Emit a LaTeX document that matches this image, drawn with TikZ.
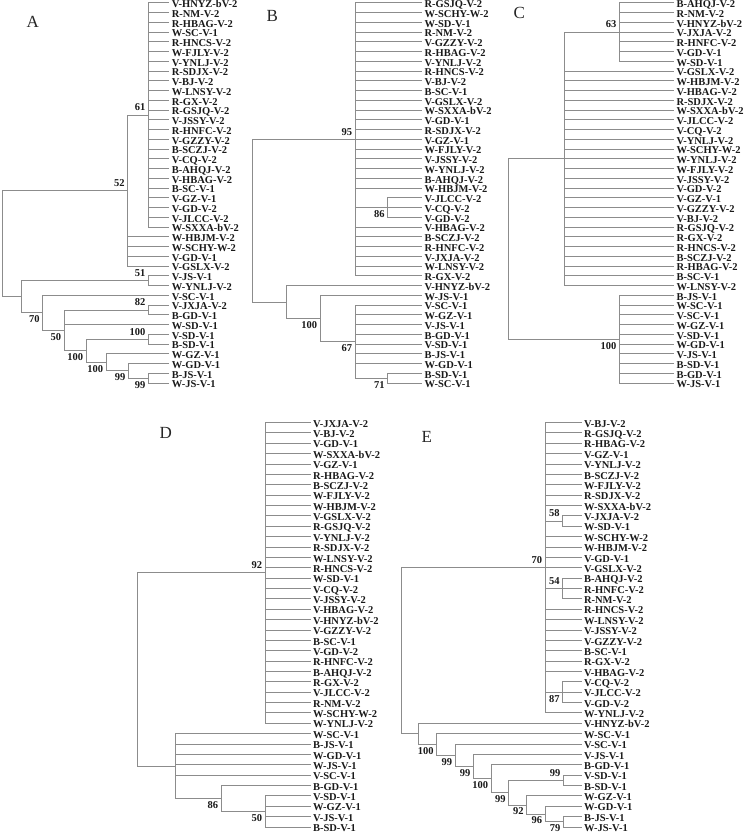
\documentclass[tikz,border=0pt]{standalone}
\usepackage{fontspec}
\setmainfont{Liberation Serif}
\newcommand\ya[1]{2.8+9.75*(#1-1)}
\newcommand\yd[1]{422.5+10.37*(#1-1)}
\newcommand\lblfont{\fontsize{10.5}{10.5}\selectfont\bfseries}
\newcommand\panfont{\fontsize{17}{17}\selectfont}
\tikzset{
 br/.style={draw=black!45, line width=0.8pt},
 lf/.style={anchor=west, inner xsep=2.5pt, inner ysep=0pt, outer sep=0pt, text height=9.5pt, text depth=0pt, font=\lblfont, text=black!90},
 bsa/.style={anchor=south east, inner sep=0pt, outer sep=0pt, xshift=-3pt, yshift=4pt, font=\lblfont, text=black!90},
 bsb/.style={anchor=north east, inner sep=0pt, outer sep=0pt, xshift=-3pt, yshift=-3pt, font=\lblfont, text=black!90},
 pl/.style={font=\panfont, text=black!85, inner sep=0pt},
}
\begin{document}
\begin{tikzpicture}[x=1pt,y=-1pt]
\fill[white] (0,0) rectangle (750,834);
\useasboundingbox (0,0) rectangle (750,834);

% ================= Panel A =================
\node[pl] (labA) at (32.7,21.7) {A};
\foreach \lname [count=\i] in {V-HNYZ-bV-2,R-NM-V-2,R-HBAG-V-2,W-SC-V-1,R-HNCS-V-2,W-FJLY-V-2,V-YNLJ-V-2,R-SDJX-V-2,V-BJ-V-2,W-LNSY-V-2,R-GX-V-2,R-GSJQ-V-2,V-JSSY-V-2,R-HNFC-V-2,V-GZZY-V-2,B-SCZJ-V-2,V-CQ-V-2,B-AHQJ-V-2,V-HBAG-V-2,B-SC-V-1,V-GZ-V-1,V-GD-V-2,V-JLCC-V-2,W-SXXA-bV-2,W-HBJM-V-2,W-SCHY-W-2,V-GD-V-1,V-GSLX-V-2,V-JS-V-1,W-YNLJ-V-2,V-SC-V-1,V-JXJA-V-2,B-GD-V-1,W-SD-V-1,V-SD-V-1,B-SD-V-1,W-GZ-V-1,W-GD-V-1,B-JS-V-1,W-JS-V-1}
  \node[lf] (A\i) at (169.3,{\ya{\i}}) {\lname};
\coordinate (ar) at (2,{\ya{25.699}});
\coordinate (a52) at (127.7,{\ya{20.25}});
\coordinate (a61) at (148.3,{\ya{12.5}});
\coordinate (aX) at (21.7,{\ya{31.148}});
\coordinate (a51) at (148.3,{\ya{29.5}});
\coordinate (a70) at (42.7,{\ya{32.797}});
\coordinate (a50) at (64,{\ya{34.594}});
\coordinate (a82) at (148.3,{\ya{32.5}});
\coordinate (aC) at (86,{\ya{36.6875}});
\coordinate (aSD) at (148.3,{\ya{35.5}});
\coordinate (aGZ) at (106,{\ya{37.875}});
\coordinate (aQa) at (128.3,{\ya{38.75}});
\coordinate (aQb) at (148.3,{\ya{39.5}});
\draw[br] (ar) |- (a52); \draw[br] (ar) |- (aX);
\draw[br] (a52) |- (a61);
\foreach \i in {25,...,28} \draw[br] (a52) |- (A\i.west);
\foreach \i in {1,...,24} \draw[br] (a61) |- (A\i.west);
\draw[br] (aX) |- (a51); \draw[br] (aX) |- (a70);
\foreach \i in {29,30} \draw[br] (a51) |- (A\i.west);
\draw[br] (a70) |- (A31.west); \draw[br] (a70) |- (a50);
\draw[br] (a50) |- (a82); \draw[br] (a50) |- (A34.west); \draw[br] (a50) |- (aC);
\foreach \i in {32,33} \draw[br] (a82) |- (A\i.west);
\draw[br] (aC) |- (aSD); \draw[br] (aC) |- (aGZ);
\foreach \i in {35,36} \draw[br] (aSD) |- (A\i.west);
\draw[br] (aGZ) |- (A37.west); \draw[br] (aGZ) |- (aQa);
\draw[br] (aQa) |- (A38.west); \draw[br] (aQa) |- (aQb);
\foreach \i in {39,40} \draw[br] (aQb) |- (A\i.west);
\node[bsa] (bA61) at (a61) {61};
\node[bsa] (bA52) at (a52) {52};
\node[bsa] (bA51) at (a51) {51};
\node[bsa] (bA82) at (a82) {82};
\node[bsa] (bASD) at (aSD) {100};
\node[bsb] (bA70) at (a70) {70};
\node[bsb] (bA50) at (a50) {50};
\node[bsb] (bAC) at (aC) {100};
\node[bsb] (bAGZ) at (aGZ) {100};
\node[bsb] (bAQa) at (aQa) {99};
\node[bsb] (bAQb) at (aQb) {99};

% ================= Panel B =================
\node[pl] (labB) at (272.2,15.5) {B};
\foreach \lname [count=\i] in {R-GSJQ-V-2,W-SCHY-W-2,W-SD-V-1,R-NM-V-2,V-GZZY-V-2,R-HBAG-V-2,V-YNLJ-V-2,R-HNCS-V-2,V-BJ-V-2,B-SC-V-1,V-GSLX-V-2,W-SXXA-bV-2,V-GD-V-1,R-SDJX-V-2,V-GZ-V-1,W-FJLY-V-2,V-JSSY-V-2,W-YNLJ-V-2,B-AHQJ-V-2,W-HBJM-V-2,V-JLCC-V-2,V-CQ-V-2,V-GD-V-2,V-HBAG-V-2,B-SCZJ-V-2,R-HNFC-V-2,V-JXJA-V-2,W-LNSY-V-2,R-GX-V-2,V-HNYZ-bV-2,W-JS-V-1,V-SC-V-1,W-GZ-V-1,V-JS-V-1,B-GD-V-1,V-SD-V-1,B-JS-V-1,W-GD-V-1,B-SD-V-1,W-SC-V-1}
  \node[lf] (B\i) at (422,{\ya{\i}}) {\lname};
\coordinate (bR) at (252.7,{\ya{23.34375}});
\coordinate (b95) at (355,{\ya{15}});
\coordinate (b86) at (387.7,{\ya{22}});
\coordinate (bL) at (286,{\ya{31.6875}});
\coordinate (bY) at (320,{\ya{33.375}});
\coordinate (b67) at (355,{\ya{35.75}});
\coordinate (b71) at (387.7,{\ya{39.5}});
\draw[br] (bR) |- (b95); \draw[br] (bR) |- (bL);
\foreach \i in {1,...,20,24,25,26,27,28,29} \draw[br] (b95) |- (B\i.west);
\draw[br] (b95) |- (b86);
\foreach \i in {21,22,23} \draw[br] (b86) |- (B\i.west);
\draw[br] (bL) |- (B30.west); \draw[br] (bL) |- (bY);
\draw[br] (bY) |- (B31.west); \draw[br] (bY) |- (b67);
\foreach \i in {32,...,38} \draw[br] (b67) |- (B\i.west);
\draw[br] (b67) |- (b71);
\foreach \i in {39,40} \draw[br] (b71) |- (B\i.west);
\node[bsa] (bB95) at (b95) {95};
\node[bsb] (bB86) at (b86) {86};
\node[bsb] (bBY) at (bY) {100};
\node[bsb] (bB67) at (b67) {67};
\node[bsb] (bB71) at (b71) {71};

% ================= Panel C =================
\node[pl] (labC) at (519.2,12.8) {C};
\foreach \lname [count=\i] in {B-AHQJ-V-2,R-NM-V-2,V-HNYZ-bV-2,V-JXJA-V-2,R-HNFC-V-2,V-GD-V-1,W-SD-V-1,V-GSLX-V-2,W-HBJM-V-2,V-HBAG-V-2,R-SDJX-V-2,W-SXXA-bV-2,V-JLCC-V-2,V-CQ-V-2,V-YNLJ-V-2,W-SCHY-W-2,W-YNLJ-V-2,W-FJLY-V-2,V-JSSY-V-2,V-GD-V-2,V-GZ-V-1,V-GZZY-V-2,V-BJ-V-2,R-GSJQ-V-2,R-GX-V-2,R-HNCS-V-2,B-SCZJ-V-2,R-HBAG-V-2,B-SC-V-1,W-LNSY-V-2,B-JS-V-1,W-SC-V-1,V-SC-V-1,W-GZ-V-1,V-SD-V-1,W-GD-V-1,V-JS-V-1,B-SD-V-1,B-GD-V-1,W-JS-V-1}
  \node[lf] (C\i) at (674,{\ya{\i}}) {\lname};
\coordinate (cR) at (508.3,{\ya{26.25}});
\coordinate (cM) at (564,{\ya{17}});
\coordinate (c63) at (619.3,{\ya{4}});
\coordinate (cH) at (619.3,{\ya{35.5}});
\draw[br] (cR) |- (cM); \draw[br] (cR) |- (cH);
\draw[br] (cM) |- (c63);
\foreach \i in {8,...,30} \draw[br] (cM) |- (C\i.west);
\foreach \i in {1,...,7} \draw[br] (c63) |- (C\i.west);
\foreach \i in {31,...,40} \draw[br] (cH) |- (C\i.west);
\node[bsa] (bC63) at (c63) {63};
\node[bsb] (bCH) at (cH) {100};

% ================= Panel D =================
\node[pl] (labD) at (165.8,433.3) {D};
\foreach \lname [count=\i] in {V-JXJA-V-2,V-BJ-V-2,V-GD-V-1,W-SXXA-bV-2,V-GZ-V-1,R-HBAG-V-2,B-SCZJ-V-2,W-FJLY-V-2,W-HBJM-V-2,V-GSLX-V-2,R-GSJQ-V-2,V-YNLJ-V-2,R-SDJX-V-2,W-LNSY-V-2,R-HNCS-V-2,W-SD-V-1,V-CQ-V-2,V-JSSY-V-2,V-HBAG-V-2,V-HNYZ-bV-2,V-GZZY-V-2,B-SC-V-1,V-GD-V-2,R-HNFC-V-2,B-AHQJ-V-2,R-GX-V-2,V-JLCC-V-2,R-NM-V-2,W-SCHY-W-2,W-YNLJ-V-2,W-SC-V-1,B-JS-V-1,W-GD-V-1,W-JS-V-1,V-SC-V-1,B-GD-V-1,V-SD-V-1,W-GZ-V-1,V-JS-V-1,B-SD-V-1}
  \node[lf] (D\i) at (310.5,{\yd{\i}}) {\lname};
\coordinate (dR) at (137,{\yd{24.8125}});
\coordinate (d92) at (265,{\yd{15.5}});
\coordinate (dL) at (175,{\yd{34.125}});
\coordinate (d86) at (221,{\yd{37.25}});
\coordinate (d50) at (265,{\yd{38.5}});
\draw[br] (dR) |- (d92); \draw[br] (dR) |- (dL);
\foreach \i in {1,...,30} \draw[br] (d92) |- (D\i.west);
\foreach \i in {31,...,35} \draw[br] (dL) |- (D\i.west);
\draw[br] (dL) |- (d86);
\draw[br] (d86) |- (D36.west); \draw[br] (d86) |- (d50);
\foreach \i in {37,...,40} \draw[br] (d50) |- (D\i.west);
\node[bsa] (bD92) at (d92) {92};
\node[bsb] (bD86) at (d86) {86};
\node[bsb] (bD50) at (d50) {50};

% ================= Panel E =================
\node[pl] (labE) at (426.7,436.7) {E};
\foreach \lname [count=\i] in {V-BJ-V-2,R-GSJQ-V-2,R-HBAG-V-2,V-GZ-V-1,V-YNLJ-V-2,B-SCZJ-V-2,W-FJLY-V-2,R-SDJX-V-2,W-SXXA-bV-2,V-JXJA-V-2,W-SD-V-1,W-SCHY-W-2,W-HBJM-V-2,V-GD-V-1,V-GSLX-V-2,B-AHQJ-V-2,R-HNFC-V-2,R-NM-V-2,R-HNCS-V-2,W-LNSY-V-2,V-JSSY-V-2,V-GZZY-V-2,B-SC-V-1,R-GX-V-2,V-HBAG-V-2,V-CQ-V-2,V-JLCC-V-2,V-GD-V-2,W-YNLJ-V-2,V-HNYZ-bV-2,W-SC-V-1,V-SC-V-1,V-JS-V-1,B-GD-V-1,V-SD-V-1,B-SD-V-1,W-GZ-V-1,W-GD-V-1,B-JS-V-1,W-JS-V-1}
  \node[lf] (E\i) at (581.5,{\yd{\i}}) {\lname};
\coordinate (eR) at (401.7,{\yd{23.0107}});
\coordinate (e70) at (545,{\yd{15}});
\coordinate (e58) at (562.7,{\yd{10.5}});
\coordinate (e54) at (562.7,{\yd{17}});
\coordinate (e87) at (562.7,{\yd{27}});
\coordinate (eA) at (418.3,{\yd{31.0215}});
\coordinate (eB) at (436.7,{\yd{32.043}});
\coordinate (eC) at (455,{\yd{33.0859}});
\coordinate (eD) at (473.3,{\yd{34.1719}});
\coordinate (eE) at (491,{\yd{35.3438}});
\coordinate (eF) at (508.7,{\yd{36.6875}});
\coordinate (eG) at (526.7,{\yd{37.875}});
\coordinate (eH) at (545,{\yd{38.75}});
\coordinate (eS) at (563.3,{\yd{35.5}});
\coordinate (eQ) at (563.3,{\yd{39.5}});
\draw[br] (eR) |- (e70); \draw[br] (eR) |- (eA);
\foreach \i in {1,...,9,12,13,14,15,19,20,21,22,23,24,25,29} \draw[br] (e70) |- (E\i.west);
\draw[br] (e70) |- (e58); \draw[br] (e70) |- (e54); \draw[br] (e70) |- (e87);
\foreach \i in {10,11} \draw[br] (e58) |- (E\i.west);
\foreach \i in {16,17,18} \draw[br] (e54) |- (E\i.west);
\foreach \i in {26,27,28} \draw[br] (e87) |- (E\i.west);
\draw[br] (eA) |- (E30.west); \draw[br] (eA) |- (eB);
\draw[br] (eB) |- (E31.west); \draw[br] (eB) |- (eC);
\draw[br] (eC) |- (E32.west); \draw[br] (eC) |- (eD);
\draw[br] (eD) |- (E33.west); \draw[br] (eD) |- (eE);
\draw[br] (eE) |- (E34.west); \draw[br] (eE) |- (eF);
\draw[br] (eF) |- (eS); \draw[br] (eF) |- (eG);
\foreach \i in {35,36} \draw[br] (eS) |- (E\i.west);
\draw[br] (eG) |- (E37.west); \draw[br] (eG) |- (eH);
\draw[br] (eH) |- (E38.west); \draw[br] (eH) |- (eQ);
\foreach \i in {39,40} \draw[br] (eQ) |- (E\i.west);
\node[bsa] (bE70) at (e70) {70};
\node[bsa] (bE58) at (e58) {58};
\node[bsa] (bE54) at (e54) {54};
\node[bsa] (bES) at (eS) {99};
\node[bsb] (bE87) at (e87) {87};
\node[bsb] (bEB) at (eB) {100};
\node[bsb] (bEC) at (eC) {99};
\node[bsb] (bED) at (eD) {99};
\node[bsb] (bEE) at (eE) {100};
\node[bsb] (bEF) at (eF) {99};
\node[bsb] (bEG) at (eG) {92};
\node[bsb] (bEH) at (eH) {96};
\node[bsb] (bEQ) at (eQ) {79};
\end{tikzpicture}
\end{document}
